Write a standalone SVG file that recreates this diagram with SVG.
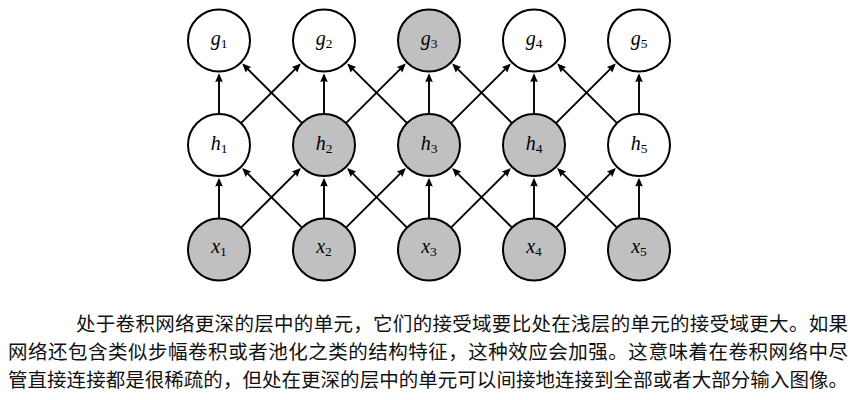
<svg xmlns="http://www.w3.org/2000/svg" width="856" height="400" viewBox="0 0 856 400">
<style>
.n{stroke:#000;stroke-width:2;fill:#fff}
.n.s{fill:#c0c0c0}
.lb{font-style:italic;font-size:20px;fill:#000}
.sb{font-style:normal;font-size:13.5px}
.e{stroke:#000;stroke-width:1.9;fill:none;marker-end:url(#ah)}
.p{font-size:19.5px;fill:#111}
</style>
<defs>
<marker id="ah" markerUnits="userSpaceOnUse" viewBox="-1 -5 11 10" markerWidth="11" markerHeight="10" refX="6.5" refY="0" orient="auto">
<path d="M0,-3.8 L8.8,0 L0,3.8 Q1.6,0 0,-3.8 z" fill="#000"/>
</marker>
</defs>
<rect width="856" height="400" fill="#fff"/>
<g id="connectors">
<line class="e" x1="219" y1="218.5" x2="219" y2="180"/>
<line class="e" x1="324" y1="218.5" x2="324" y2="180"/>
<line class="e" x1="429" y1="218.5" x2="429" y2="180"/>
<line class="e" x1="534" y1="218.5" x2="534" y2="180"/>
<line class="e" x1="639" y1="218.5" x2="639" y2="180"/>
<line class="e" x1="240.97" y1="227.63" x2="299.19" y2="169.69"/>
<line class="e" x1="345.97" y1="227.63" x2="404.19" y2="169.69"/>
<line class="e" x1="450.97" y1="227.63" x2="509.19" y2="169.69"/>
<line class="e" x1="555.97" y1="227.63" x2="614.19" y2="169.69"/>
<line class="e" x1="302.03" y1="227.63" x2="243.81" y2="169.69"/>
<line class="e" x1="407.03" y1="227.63" x2="348.81" y2="169.69"/>
<line class="e" x1="512.03" y1="227.63" x2="453.81" y2="169.69"/>
<line class="e" x1="617.03" y1="227.63" x2="558.81" y2="169.69"/>
<line class="e" x1="219" y1="114" x2="219" y2="75.5"/>
<line class="e" x1="324" y1="114" x2="324" y2="75.5"/>
<line class="e" x1="429" y1="114" x2="429" y2="75.5"/>
<line class="e" x1="534" y1="114" x2="534" y2="75.5"/>
<line class="e" x1="639" y1="114" x2="639" y2="75.5"/>
<line class="e" x1="240.97" y1="123.13" x2="299.19" y2="65.19"/>
<line class="e" x1="345.97" y1="123.13" x2="404.19" y2="65.19"/>
<line class="e" x1="450.97" y1="123.13" x2="509.19" y2="65.19"/>
<line class="e" x1="555.97" y1="123.13" x2="614.19" y2="65.19"/>
<line class="e" x1="302.03" y1="123.13" x2="243.81" y2="65.19"/>
<line class="e" x1="407.03" y1="123.13" x2="348.81" y2="65.19"/>
<line class="e" x1="512.03" y1="123.13" x2="453.81" y2="65.19"/>
<line class="e" x1="617.03" y1="123.13" x2="558.81" y2="65.19"/>
</g>
<g font-family="'Liberation Serif', 'DejaVu Serif', serif">
<g id="g1"><circle class="n" cx="219" cy="40.5" r="31"/><text class="lb" x="219" y="45" text-anchor="middle">g<tspan class="sb" dy="3">1</tspan></text></g>
<g id="g2"><circle class="n" cx="324" cy="40.5" r="31"/><text class="lb" x="324" y="45" text-anchor="middle">g<tspan class="sb" dy="3">2</tspan></text></g>
<g id="g3"><circle class="n s" cx="429" cy="40.5" r="31"/><text class="lb" x="429" y="45" text-anchor="middle">g<tspan class="sb" dy="3">3</tspan></text></g>
<g id="g4"><circle class="n" cx="534" cy="40.5" r="31"/><text class="lb" x="534" y="45" text-anchor="middle">g<tspan class="sb" dy="3">4</tspan></text></g>
<g id="g5"><circle class="n" cx="639" cy="40.5" r="31"/><text class="lb" x="639" y="45" text-anchor="middle">g<tspan class="sb" dy="3">5</tspan></text></g>
<g id="h1"><circle class="n" cx="219" cy="145" r="31"/><text class="lb" x="219" y="150" text-anchor="middle">h<tspan class="sb" dy="3">1</tspan></text></g>
<g id="h2"><circle class="n s" cx="324" cy="145" r="31"/><text class="lb" x="324" y="150" text-anchor="middle">h<tspan class="sb" dy="3">2</tspan></text></g>
<g id="h3"><circle class="n s" cx="429" cy="145" r="31"/><text class="lb" x="429" y="150" text-anchor="middle">h<tspan class="sb" dy="3">3</tspan></text></g>
<g id="h4"><circle class="n s" cx="534" cy="145" r="31"/><text class="lb" x="534" y="150" text-anchor="middle">h<tspan class="sb" dy="3">4</tspan></text></g>
<g id="h5"><circle class="n" cx="639" cy="145" r="31"/><text class="lb" x="639" y="150" text-anchor="middle">h<tspan class="sb" dy="3">5</tspan></text></g>
<g id="x1"><circle class="n s" cx="219" cy="249.5" r="31"/><text class="lb" x="219" y="253" text-anchor="middle">x<tspan class="sb" dy="3">1</tspan></text></g>
<g id="x2"><circle class="n s" cx="324" cy="249.5" r="31"/><text class="lb" x="324" y="253" text-anchor="middle">x<tspan class="sb" dy="3">2</tspan></text></g>
<g id="x3"><circle class="n s" cx="429" cy="249.5" r="31"/><text class="lb" x="429" y="253" text-anchor="middle">x<tspan class="sb" dy="3">3</tspan></text></g>
<g id="x4"><circle class="n s" cx="534" cy="249.5" r="31"/><text class="lb" x="534" y="253" text-anchor="middle">x<tspan class="sb" dy="3">4</tspan></text></g>
<g id="x5"><circle class="n s" cx="639" cy="249.5" r="31"/><text class="lb" x="639" y="253" text-anchor="middle">x<tspan class="sb" dy="3">5</tspan></text></g>
</g>
<g id="caption" font-family="'Liberation Serif', 'Noto Sans CJK SC', serif">
<text class="p" x="76" y="331" textLength="772" lengthAdjust="spacing">处于卷积网络更深的层中的单元，它们的接受域要比处在浅层的单元的接受域更大。如果</text>
<text class="p" x="8" y="358.5" textLength="840" lengthAdjust="spacing">网络还包含类似步幅卷积或者池化之类的结构特征，这种效应会加强。这意味着在卷积网络中尽</text>
<text class="p" x="8" y="386.5" textLength="840" lengthAdjust="spacing">管直接连接都是很稀疏的，但处在更深的层中的单元可以间接地连接到全部或者大部分输入图像。</text>
</g>
</svg>
